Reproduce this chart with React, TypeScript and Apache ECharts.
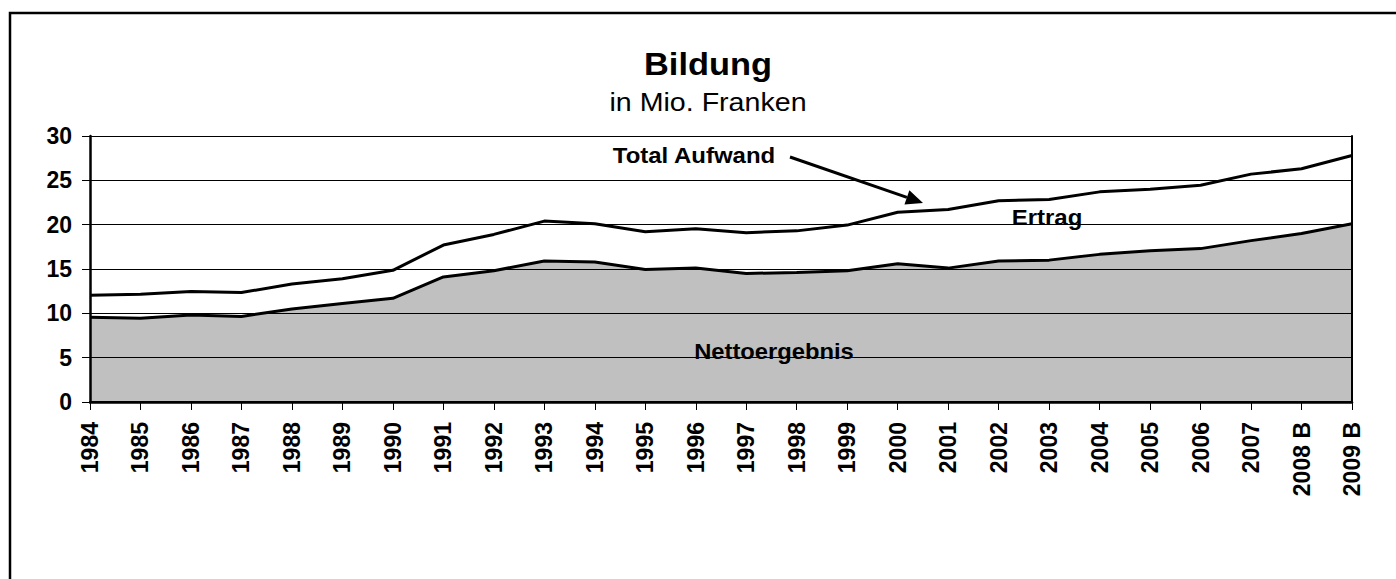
import React, { useEffect, useRef } from "react";
import * as echarts from "echarts";

const years = [
  "1984", "1985", "1986", "1987", "1988", "1989", "1990", "1991", "1992",
  "1993", "1994", "1995", "1996", "1997", "1998", "1999", "2000", "2001",
  "2002", "2003", "2004", "2005", "2006", "2007", "2008 B", "2009 B",
];

const totalAufwand = [
  12.05, 12.15, 12.45, 12.35, 13.3, 13.9, 14.85, 17.7, 18.9, 20.4, 20.1,
  19.2, 19.55, 19.1, 19.3, 19.95, 21.4, 21.7, 22.7, 22.85, 23.7, 24.0, 24.45,
  25.7, 26.3, 27.8,
];

const nettoergebnis = [
  9.55, 9.45, 9.8, 9.65, 10.5, 11.1, 11.7, 14.1, 14.8, 15.9, 15.8, 14.95,
  15.1, 14.5, 14.6, 14.8, 15.6, 15.1, 15.9, 16.0, 16.65, 17.05, 17.3, 18.2,
  19.0, 20.1,
];

const FONT = "'Liberation Sans', Arial, sans-serif";

function label(text: string, x: number, y: number, size: number, bold: boolean, sx: number) {
  return {
    type: "text",
    x,
    y,
    scaleX: sx,
    style: {
      text,
      fontFamily: FONT,
      fontWeight: bold ? "bold" : "normal",
      fontSize: size,
      fill: "#000",
      align: "center",
      verticalAlign: "middle",
    },
    z: 100,
  };
}

export default function App() {
  const ref = useRef<HTMLDivElement>(null);

  useEffect(() => {
    if (!ref.current) return;
    const chart = echarts.init(ref.current, undefined, { renderer: "svg" });

    // arrow geometry
    const x1 = 790, y1 = 157, x2 = 923, y2 = 203;
    const dx = x2 - x1, dy = y2 - y1;
    const len = Math.sqrt(dx * dx + dy * dy);
    const ux = dx / len, uy = dy / len;
    const headLen = 17, headW = 7.5;
    const bx = x2 - ux * headLen, by = y2 - uy * headLen;
    const px = -uy * headW, py = ux * headW;

    chart.setOption({
      animation: false,
      backgroundColor: "#ffffff",
      grid: { left: 90, right: 44, top: 136, bottom: 177, containLabel: false },
      xAxis: [
        {
          type: "category",
          data: years,
          boundaryGap: false,
          z: 10,
          axisLine: { show: true, lineStyle: { color: "#000", width: 2.5 } },
          axisTick: {
            show: true,
            inside: false,
            length: 8,
            alignWithLabel: true,
            lineStyle: { color: "#000", width: 1 },
          },
          axisLabel: {
            rotate: 90,
            interval: 0,
            margin: 20,
            color: "#000",
            fontFamily: FONT,
            fontWeight: "bold",
            fontSize: 23,
          },
          splitLine: { show: false },
        },
        {
          type: "category",
          data: years,
          position: "top",
          boundaryGap: false,
          z: 10,
          axisLine: { show: true, lineStyle: { color: "#000", width: 2 } },
          axisTick: { show: false },
          axisLabel: { show: false },
          splitLine: { show: false },
        },
      ],
      yAxis: [
        {
          type: "value",
          min: 0,
          max: 30,
          interval: 5,
          z: 10,
          axisLine: { show: true, lineStyle: { color: "#000", width: 2.5 } },
          axisTick: {
            show: true,
            inside: false,
            length: 8,
            lineStyle: { color: "#000", width: 1 },
          },
          axisLabel: {
            margin: 18,
            color: "#000",
            fontFamily: FONT,
            fontWeight: "bold",
            fontSize: 23,
          },
          splitLine: { show: true, lineStyle: { color: "#000", width: 1 } },
        },
        {
          type: "value",
          min: 0,
          max: 30,
          interval: 5,
          position: "right",
          z: 10,
          axisLine: { show: true, lineStyle: { color: "#000", width: 2 } },
          axisTick: { show: false },
          axisLabel: { show: false },
          splitLine: { show: false },
        },
      ],
      series: [
        {
          name: "Nettoergebnis",
          type: "line",
          data: nettoergebnis,
          symbol: "none",
          lineStyle: { color: "#000", width: 3 },
          areaStyle: { color: "#c0c0c0", opacity: 1 },
          z: 3,
        },
        {
          name: "Total Aufwand",
          type: "line",
          data: totalAufwand,
          symbol: "none",
          lineStyle: { color: "#000", width: 3 },
          z: 4,
        },
      ],
      graphic: [
        {
          type: "rect",
          shape: { x: 10, y: 13, width: 1420, height: 620 },
          style: { fill: "none", stroke: "#000", lineWidth: 2.5 },
          z: 100,
        },
        label("Bildung", 708, 64, 31, true, 1.11),
        label("in Mio. Franken", 708, 102, 26, false, 1.1),
        label("Total Aufwand", 694, 155, 22, true, 1.09),
        label("Ertrag", 1047, 217, 22, true, 1.09),
        label("Nettoergebnis", 774, 351, 22, true, 1.08),
        {
          type: "line",
          shape: { x1, y1, x2: bx, y2: by },
          style: { stroke: "#000", lineWidth: 3 },
          z: 100,
        },
        {
          type: "polygon",
          shape: {
            points: [
              [x2, y2],
              [bx + px, by + py],
              [bx - px, by - py],
            ],
          },
          style: { fill: "#000" },
          z: 100,
        },
      ],
    });

    return () => chart.dispose();
  }, []);

  return (
    <div
      ref={ref}
      style={{ position: "fixed", left: 0, top: 0, width: 1396, height: 579 }}
    />
  );
}
